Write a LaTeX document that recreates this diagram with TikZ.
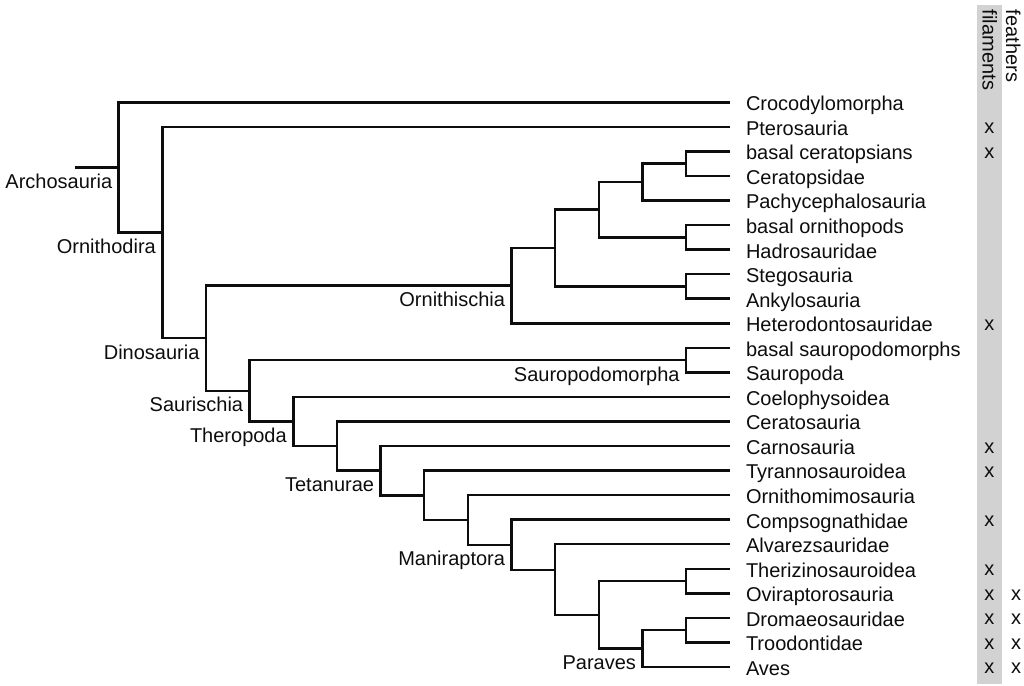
\documentclass[tikz,border=0pt]{standalone}
\usepackage{fontspec}
\setmainfont{Liberation Sans}
\begin{document}
\begin{tikzpicture}[x=1pt,y=-1pt,
  every node/.style={inner sep=0pt, outer sep=0pt, font=\fontsize{20}{24}\selectfont, text=black!95},
  branch/.style={line width=2.5pt, draw=black!95, line join=miter},
  leaflabel/.style={anchor=base west},
  cladelabel/.style={anchor=base east},
  xmark/.style={anchor=base},
  colhead/.style={rotate=-90, anchor=base west}]
\useasboundingbox (0,0) rectangle (1024,685);
\fill[gray!35] (976.7,5) rectangle (1002.3,683.5);
% leaves
\foreach \name [count=\i from 0] in {Crocodylomorpha,Pterosauria,basal ceratopsians,Ceratopsidae,Pachycephalosauria,basal ornithopods,Hadrosauridae,Stegosauria,Ankylosauria,Heterodontosauridae,basal sauropodomorphs,Sauropoda,Coelophysoidea,Ceratosauria,Carnosauria,Tyrannosauroidea,Ornithomimosauria,Compsognathidae,Alvarezsauridae,Therizinosauroidea,Oviraptorosauria,Dromaeosauridae,Troodontidae,Aves}{
  \coordinate (l\i) at (729.75,102.3+24.55*\i);
  \node[leaflabel] (t\i) at (746,110.7+24.55*\i) {\name};
}
% internal nodes
\coordinate (root) at (75,167.4);
\coordinate (A) at (118.65,167.4);
\coordinate (O) at (162.3,232.53);
\coordinate (D) at (205.95,338.21);
\coordinate (Oi) at (511.5,285.66);
\coordinate (N1) at (555.15,248.07);
\coordinate (N2) at (598.8,209.71);
\coordinate (N4) at (642.45,182.09);
\coordinate (N6) at (686.1,163.675);
\coordinate (N5) at (686.1,237.325);
\coordinate (N3) at (686.1,286.425);
\coordinate (S) at (249.6,390.76);
\coordinate (Sp) at (686.1,360.075);
\coordinate (T) at (293.25,421.45);
\coordinate (T2) at (336.9,446.0);
\coordinate (Te) at (380.55,470.6);
\coordinate (T4) at (424.2,495.25);
\coordinate (T5) at (467.85,519.95);
\coordinate (Ma) at (511.5,544.8);
\coordinate (M2) at (555.15,570);
\coordinate (M3) at (598.8,614.78);
\coordinate (M4) at (686.1,581.025);
\coordinate (Pa) at (642.45,648.54);
\coordinate (M5) at (686.1,630.125);
% branches
\draw[branch] (root) -- (A);
\foreach \p/\a/\b in {A/l0/O, O/l1/D, D/Oi/S, Oi/N1/l9, N1/N2/N3, N2/N4/N5, N4/N6/l4, N6/l2/l3, N5/l5/l6, N3/l7/l8, S/Sp/T, Sp/l10/l11, T/l12/T2, T2/l13/Te, Te/l14/T4, T4/l15/T5, T5/l16/Ma, Ma/l17/M2, M2/l18/M3, M3/M4/Pa, M4/l19/l20, Pa/M5/l23, M5/l21/l22}{
  \draw[branch] (\p) |- (\a);
  \draw[branch] (\p) |- (\b);
}
% clade labels
\foreach \n/\txt in {A/Archosauria, O/Ornithodira, D/Dinosauria, S/Saurischia, T/Theropoda, Te/Tetanurae, Ma/Maniraptora, Oi/Ornithischia, Sp/Sauropodomorpha, Pa/Paraves}{
  \node[cladelabel] (c\n) at ([xshift=-6.5pt,yshift=-21pt]\n) {\txt};
}
% column headers
\node[colhead] (fil) at (982.5,10) {filaments};
\node[colhead] (fea) at (1006,10) {feathers};
% marks
\foreach \r in {1,2,9,14,15,17,19,20,21,22,23}{
  \node[xmark] (fx\r) at (989.3,109.3+24.55*\r) {x};
}
\foreach \r in {20,21,22,23}{
  \node[xmark] (gx\r) at (1016,109.3+24.55*\r) {x};
}
\end{tikzpicture}
\end{document}
